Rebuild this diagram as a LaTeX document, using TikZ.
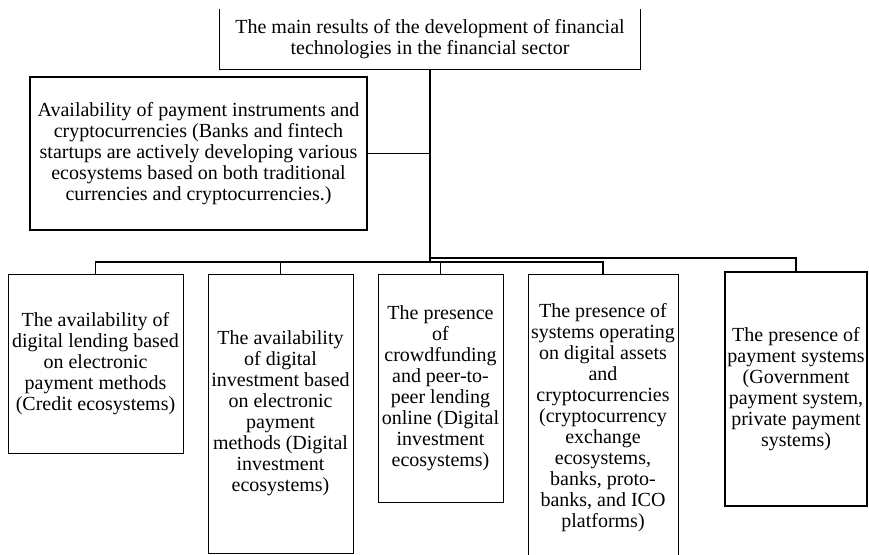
\documentclass[tikz,border=0pt]{standalone}
\usepackage{fontspec}
\setmainfont{Liberation Serif}
\usetikzlibrary{calc}

\begin{document}
\begin{tikzpicture}[x=1pt, y=-1pt,
    result/.style ={rectangle, draw, line width=0.9pt, inner sep=0pt, align=center,
                    font=\fontsize{20}{21}\selectfont},
    heading/.style ={rectangle, inner sep=0pt, align=center,
                    font=\fontsize{20}{21}\selectfont}]
   \useasboundingbox (0,0) rectangle (869,554);
   \node[heading, minimum width=420, minimum height=60] (main) at (430,39)
      {The main results of the development of financial\\technologies in the financial sector};
   \node[result, line width=2.5pt, minimum width=337, minimum height=153] (avail) at (198.5,153.5)
      {Availability of payment instruments and\\cryptocurrencies (Banks and fintech\\startups are actively developing various\\ecosystems based on both traditional\\currencies and cryptocurrencies.)};
   \node[result, minimum width=175, minimum height=179] (credit) at (95.5,363.5)
      {The availability of\\digital lending based\\on electronic\\payment methods\\(Credit ecosystems)};
   \node[result, minimum width=145, minimum height=279] (invest) at (280.5,413.5)
      {The availability\\of digital\\investment based\\on electronic\\payment\\methods (Digital\\investment\\ecosystems)};
   \node[result, minimum width=125, minimum height=228] (crowd) at (440.5,388)
      {The presence\\of\\crowdfunding\\and peer-to-\\peer lending\\online (Digital\\investment\\ecosystems)};
   \node[result, minimum width=150, minimum height=287] (crypto) at (603,417.5)
      {The presence of\\systems operating\\on digital assets\\and\\cryptocurrencies\\(cryptocurrency\\exchange\\ecosystems,\\banks, proto-\\banks, and ICO\\platforms)};
   \node[result, line width=2pt, minimum width=142, minimum height=234] (paysys) at (796,389)
      {The presence of\\payment systems\\(Government\\payment system,\\private payment\\systems)};
   \coordinate (hub) at (430,262);
   \coordinate (hubr) at (430,258);
   % top box, its upper edge is cut off
   \draw[line width=1.3pt] (main.north west) -- (main.south west) -- (main.south east) -- (main.north east);
   \draw[line width=1.3pt] (main.south) to (hub);
   \draw[line width=1.3pt] (avail.east) to (avail.east -| hub);
   \draw[line width=1.6pt] (hub) -| (credit.north);
   \draw[line width=1.6pt] (hub) -| (invest.north);
   \draw[line width=1.6pt] (hub) -| (crowd.north);
   \draw[line width=1.6pt] (hub) -| (crypto.north);
   \draw[line width=1.1pt] (hubr) -| (paysys.north);
 \end{tikzpicture}
\end{document}
